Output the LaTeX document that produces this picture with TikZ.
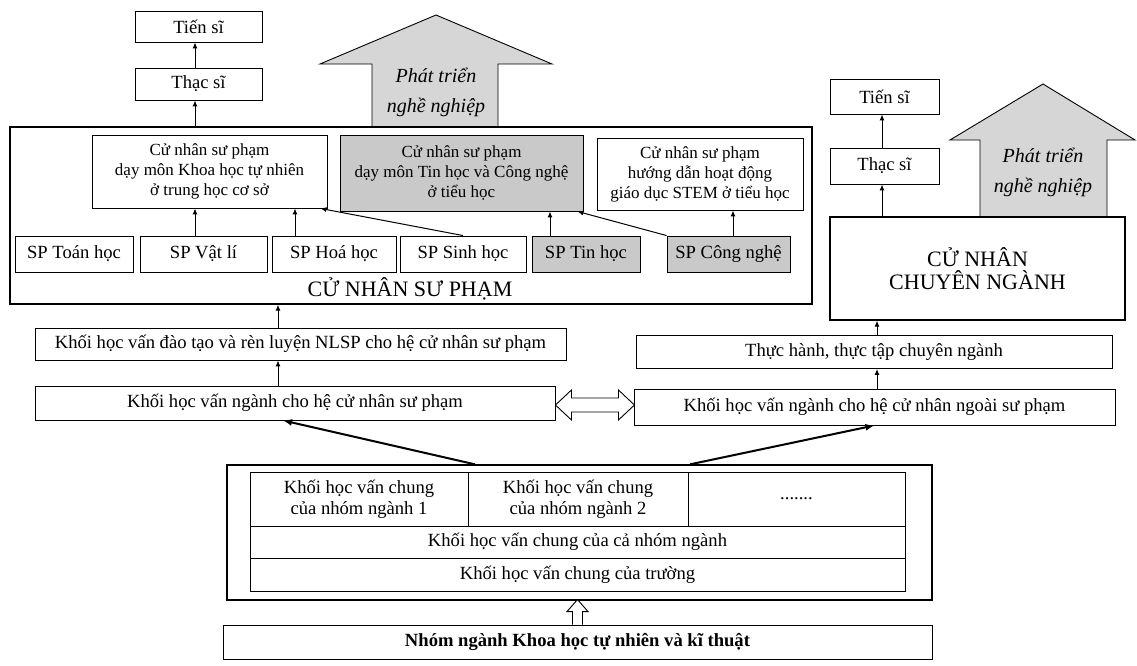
\documentclass[tikz,border=0pt]{standalone}
\usepackage{fontspec}
\setmainfont{Liberation Serif}
\usetikzlibrary{arrows.meta}

\begin{document}
\begin{tikzpicture}[x=1pt,y=-1pt,>={Latex[length=6pt,width=5pt]},
    box/.style={draw,line width=0.9pt,align=center,inner sep=0pt,font=\fontsize{18.6}{21}\selectfont},
    prog/.style={box,font=\fontsize{17}{20}\selectfont},
    greybox/.style={fill=gray!42},
    outerbox/.style={draw,line width=1.3pt,inner sep=0pt},
    big/.style={font=\fontsize{22}{23}\selectfont,align=center},
    growarrow/.style={draw,line width=0.9pt,fill=gray!32},
    lbl/.style={font=\fontsize{20}{30}\selectfont\itshape,align=center},
    link/.style={->,line width=1pt},
    bold link/.style={-{Latex[length=9pt,width=7pt]},line width=2pt},
    hollow/.style={draw,line width=0.9pt,fill=white}]

    \useasboundingbox (0,0) rectangle (1137,666);

    % Growth arrow (left)
    \draw [growarrow] (372,127) -- (372,64) -- (320,64) -- (436,15) -- (552,64) -- (498,64) -- (498,127) -- cycle;
    \node [lbl] (growL) at (436,92) {Phát triển\\nghề nghiệp};

    % Degrees (left)
    \node [box,minimum width=127pt,minimum height=31pt] (tienL) at (198.5,26.5) {Tiến sĩ};
    \node [box,minimum width=127pt,minimum height=32pt] (thacL) at (198.5,84) {Thạc sĩ};

    % Teacher bachelor frame
    \node [outerbox,minimum width=802pt,minimum height=177pt] (spall) at (411,215.5) {};
    \node [big] (cnsp) at (410,289) {CỬ NHÂN SƯ PHẠM};

    % Programmes
    \node [prog,minimum width=235pt,minimum height=73pt] (khtn) at (209.5,171.5)
        {Cử nhân sư phạm\\dạy môn Khoa học tự nhiên\\ở trung học cơ sở};
    \node [prog,greybox,minimum width=243pt,minimum height=76pt] (tinhoc) at (461.5,173)
        {Cử nhân sư phạm\\dạy môn Tin học và Công nghệ\\ở tiểu học};
    \node [prog,minimum width=206pt,minimum height=72pt] (stem) at (700,174)
        {Cử nhân sư phạm\\hướng dẫn hoạt động\\giáo dục STEM ở tiểu học};

    % Subject majors
    \node [box,minimum width=118pt,minimum height=36pt] (toan) at (74,254) {SP Toán học};
    \node [box,minimum width=127pt,minimum height=36pt] (vatli) at (203.5,254) {SP Vật lí};
    \node [box,minimum width=124pt,minimum height=36pt] (hoa) at (334,254) {SP Hoá học};
    \node [box,minimum width=126pt,minimum height=36pt] (sinh) at (463,254) {SP Sinh học};
    \node [box,greybox,minimum width=108pt,minimum height=36pt] (tin) at (586,254) {SP Tin học};
    \node [box,greybox,minimum width=123pt,minimum height=36pt] (congnghe) at (728.5,254) {SP Công nghệ};

    \draw [link] ([xshift=-8.5pt]vatli.north) -- ([xshift=-8.5pt]vatli.north |- khtn.south);
    \draw [link] ([xshift=-39pt]hoa.north) -- ([xshift=-39pt]hoa.north |- khtn.south);
    \draw [link] (sinh.north) -- ([xshift=-7pt]khtn.south east);
    \draw [link] ([xshift=-36pt]tin.north) -- ([xshift=-36pt]tin.north |- tinhoc.south);
    \draw [link] (congnghe.north west) -- ([xshift=-6pt]tinhoc.south east);
    \draw [link] ([xshift=4.5pt]congnghe.north) -- ([xshift=4.5pt]congnghe.north |- stem.south);
    \draw [link] ([xshift=-3.5pt]thacL.south |- spall.north) -- ([xshift=-3.5pt]thacL.south);
    \draw [link] ([xshift=-3.5pt]thacL.north) -- ([xshift=-3.5pt]tienL.south);

    % Growth arrow (right)
    \draw [growarrow] (980,217) -- (980,140) -- (950,140) -- (1043,84) -- (1135,140) -- (1107,140) -- (1107,217) -- cycle;
    \node [lbl] (growR) at (1043,172) {Phát triển\\nghề nghiệp};

    % Degrees (right)
    \node [box,minimum width=109pt,minimum height=35pt] (tienR) at (884.5,96.5) {Tiến sĩ};
    \node [box,minimum width=109pt,minimum height=36pt] (thacR) at (884.5,166) {Thạc sĩ};
    \node [outerbox,big,minimum width=295pt,minimum height=103pt] (cncn) at (977.5,268.5) {CỬ NHÂN\\CHUYÊN NGÀNH};

    \draw [link] ([xshift=-2.5pt]thacR.south |- cncn.north) -- ([xshift=-2.5pt]thacR.south);
    \draw [link] ([xshift=-2.5pt]thacR.north) -- ([xshift=-2.5pt]tienR.south);

    % Major blocks
    \node [box,minimum width=531pt,minimum height=32pt] (nlsp) at (300.5,344)
        {Khối học vấn đào tạo và rèn luyện NLSP cho hệ cử nhân sư phạm};
    \node [box,minimum width=520pt,minimum height=34pt] (nganhsp) at (295,403)
        {Khối học vấn ngành cho hệ cử nhân sư phạm};
    \node [box,minimum width=476pt,minimum height=33pt] (thuchanh) at (874,352)
        {Thực hành, thực tập chuyên ngành};
    \node [box,minimum width=481pt,minimum height=36pt] (nganhngoai) at (874.5,407)
        {Khối học vấn ngành cho hệ cử nhân ngoài sư phạm};

    \draw [link] ([xshift=-22.5pt]nlsp.north) -- ([xshift=-22.5pt]nlsp.north |- spall.south);
    \draw [link] ([xshift=-17pt]nganhsp.north) -- ([xshift=-17pt]nganhsp.north |- nlsp.south);
    \draw [link] ([xshift=3pt]thuchanh.north) -- ([xshift=3pt]thuchanh.north |- cncn.south);
    \draw [link] ([xshift=2.5pt]nganhngoai.north) -- ([xshift=2.5pt]nganhngoai.north |- thuchanh.south);

    % Two-way transfer
    \draw [hollow] ([yshift=-2pt]nganhsp.east) -- ++(16,-15) -- ++(0,8) -- ++(47,0) -- ++(0,-8)
        -- ++(16,15) -- ++(-16,15) -- ++(0,-8) -- ++(-47,0) -- ++(0,8) -- cycle;

    % Common blocks
    \node [outerbox,minimum width=705pt,minimum height=135pt] (chung) at (579.5,532.5) {};
    \node [box,minimum width=218pt,minimum height=54pt] (nhom1) at (359,499) {Khối học vấn chung\\của nhóm ngành 1};
    \node [box,minimum width=220pt,minimum height=54pt] (nhom2) at (578,499) {Khối học vấn chung\\của nhóm ngành 2};
    \node [box,minimum width=217pt,minimum height=54pt] (nhomx) at (796.5,499) {.......};
    \node [box,minimum width=655pt,minimum height=32pt] (canhom) at (577.5,542) {Khối học vấn chung của cả nhóm ngành};
    \node [box,minimum width=655pt,minimum height=33pt] (truong) at (577.5,574.5) {Khối học vấn chung của trường};

    \node [box,minimum width=709pt,minimum height=34pt,font=\bfseries\fontsize{18.6}{21}\selectfont] (nhomnganh) at (577.5,642)
        {Nhóm ngành Khoa học tự nhiên và kĩ thuật};

    \draw [hollow] ([xshift=-5pt]nhomnganh.north) -- ++(0,-13) -- ++(-5.5,0) -- ++(10.5,-12)
        -- ++(10.5,12) -- ++(-5.5,0) -- ++(0,13);

    \draw [bold link] ([xshift=-104.5pt]chung.north) -- ([xshift=-12pt]nganhsp.south);
    \draw [bold link] ([xshift=110.5pt]chung.north) -- (nganhngoai.south);

\end{tikzpicture}
\end{document}
